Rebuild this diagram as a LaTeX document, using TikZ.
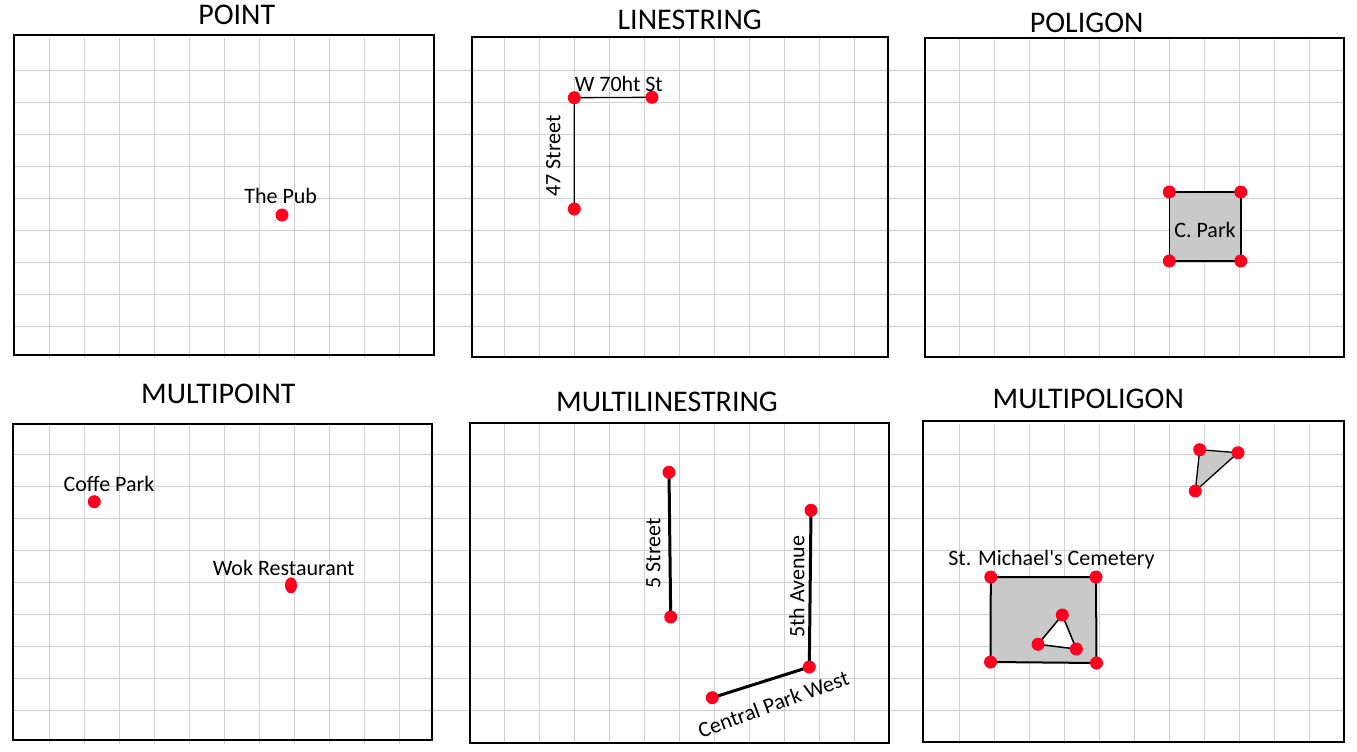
\documentclass[tikz,border=0pt]{standalone}
\usepackage{fontspec}
\setmainfont{Carlito}[Ligatures=TeXOff]
\usetikzlibrary{shapes.geometric}
\definecolor{gridgray}{HTML}{D0D0D0}
\definecolor{dotred}{HTML}{FF001E}
\definecolor{polygray}{HTML}{C9C9C9}
\begin{document}
\begin{tikzpicture}[x=1pt,y=-1pt,
  gridline/.style={draw=gridgray,line width=0.9pt},
  frame/.style={draw=black,line width=2pt},
  title/.style={font=\fontsize{30}{33}\selectfont,inner sep=0pt},
  lbl/.style={font=\fontsize{22}{24}\selectfont,inner sep=0pt},
  dot/.style={circle,fill=dotred,inner sep=0pt,minimum size=13pt},
  thinline/.style={draw=black,line width=1.3pt},
  thickline/.style={draw=black,line width=3pt},
  poly/.style={fill=polygray,draw=black,line width=1.5pt,line join=miter}]
\useasboundingbox (0,0) rectangle (1357,752);
\fill[white] (0,0) rectangle (1357,752);
% ---- grids ----
\foreach \k in {0,...,8} {
  \draw[gridline] (14,70.3+32*\k) -- (1344,70.3+32*\k);
  \draw[gridline] (12.7,454.3+32*\k) -- (1344,454.3+32*\k);
}
\foreach \k in {0,...,10} {
  \draw[gridline] (49.3+35*\k,38.5) -- (49.3+35*\k,357.5);
  \draw[gridline] (504.3+35*\k,38.5) -- (504.3+35*\k,357.5);
  \draw[gridline] (959.3+35*\k,38.5) -- (959.3+35*\k,357.5);
  \draw[gridline] (49.3+35*\k,424) -- (49.3+35*\k,743.5);
  \draw[gridline] (504.3+35*\k,424) -- (504.3+35*\k,743.5);
  \draw[gridline] (959.3+35*\k,424) -- (959.3+35*\k,743.5);
}
% ---- frames ----
\draw[frame] (14,34.7) rectangle (434,354.7);
\draw[frame] (471.7,36.7) rectangle (888.3,357);
\draw[frame] (925,37.7) rectangle (1344,357);
\draw[frame] (12.7,424) rectangle (432.3,740);
\draw[frame] (470,422.7) rectangle (889,743);
\draw[frame] (922.7,420.7) rectangle (1344.3,742);
% ---- titles ----
\node[title] (t1) at (236.7,15) {POINT};
\node[title] (t2) at (689.7,20) {LINESTRING};
\node[title] (t3) at (1086.7,23) {POLIGON};
\node[title] (t4) at (218.3,394) {MULTIPOINT};
\node[title] (t5) at (667,401.5) {MULTILINESTRING};
\node[title] (t6) at (1088.3,399) {MULTIPOLIGON};
% ---- POINT ----
\node[dot] (pub) at (282,215) {};
\node[lbl] (publ) at (280.7,196) {The Pub};
% ---- LINESTRING ----
\coordinate (la) at (574.3,97.7);
\coordinate (lb) at (652,97.3);
\coordinate (lc) at (574.3,209);
\draw[thinline] (lc) -- (la) -- (lb);
\node[dot] (lad) at (la) {};
\node[dot] (lbd) at (lb) {};
\node[dot] (lcd) at (lc) {};
\node[lbl] (w70) at (618.8,84) {W 70ht St};
\node[lbl,rotate=90] (s47) at (553.3,156) {47 Street};
% ---- POLIGON ----
\coordinate (pa) at (1169.3,192);
\coordinate (pb) at (1240.8,192);
\coordinate (pc) at (1240.8,261);
\coordinate (pd) at (1169.3,261);
\draw[poly] (pa) -- (pb) -- (pc) -- (pd) -- cycle;
\foreach \c in {pa,pb,pc,pd} \node[dot] (\c d) at (\c) {};
\node[lbl] (cpark) at (1205,230) {C. Park};
% ---- MULTIPOINT ----
\node[dot] (coffe) at (94.3,501.7) {};
\node[ellipse,fill=dotred,inner sep=0pt,minimum width=12pt,minimum height=16pt] (wok) at (291,585.3) {};
\node[lbl] (coffel) at (109,484) {Coffe Park};
\node[lbl] (wokl) at (283.7,568) {Wok Restaurant};
% ---- MULTILINESTRING ----
\coordinate (ma) at (669,472.3);
\coordinate (mb) at (670.7,617);
\coordinate (mc) at (811,510.3);
\coordinate (md) at (809.3,667);
\coordinate (me) at (712.3,697.7);
\draw[thickline] (ma) -- (mb);
\draw[thickline] (mc) -- (md);
\draw[thickline] (me) -- (md);
\foreach \c in {ma,mb,mc,md,me} \node[dot] (\c d) at (\c) {};
\node[lbl,rotate=90] (s5) at (653.3,553.3) {5 Street};
\node[lbl,rotate=90] (av5) at (796.7,586.7) {5th Avenue};
\node[lbl,rotate=20] (cpw) at (773.3,704) {Central Park West};
% ---- MULTIPOLIGON ----
\coordinate (ta) at (1199.7,449.7);
\coordinate (tb) at (1238,452.7);
\coordinate (tc) at (1195.3,491);
\draw[poly,line width=1.3pt] (ta) -- (tb) -- (tc) -- cycle;
\coordinate (qa) at (990.8,577);
\coordinate (qb) at (1096,577);
\coordinate (qc) at (1096.5,663);
\coordinate (qd) at (990.5,662);
\draw[poly,line width=2pt] (qa) -- (qb) -- (qc) -- (qd) -- cycle;
\coordinate (ha) at (1062.3,615);
\coordinate (hb) at (1076.3,649);
\coordinate (hc) at (1038,644.3);
\draw[fill=white,draw=black,line width=1.5pt] (ha) -- (hb) -- (hc) -- cycle;
\foreach \c in {ta,tb,tc,qa,qb,qc,qd,ha,hb,hc} \node[dot] (\c d) at (\c) {};
\node[lbl] (smc) at (1051.5,560) {St. Michael's Cemetery};
\end{tikzpicture}
\end{document}
